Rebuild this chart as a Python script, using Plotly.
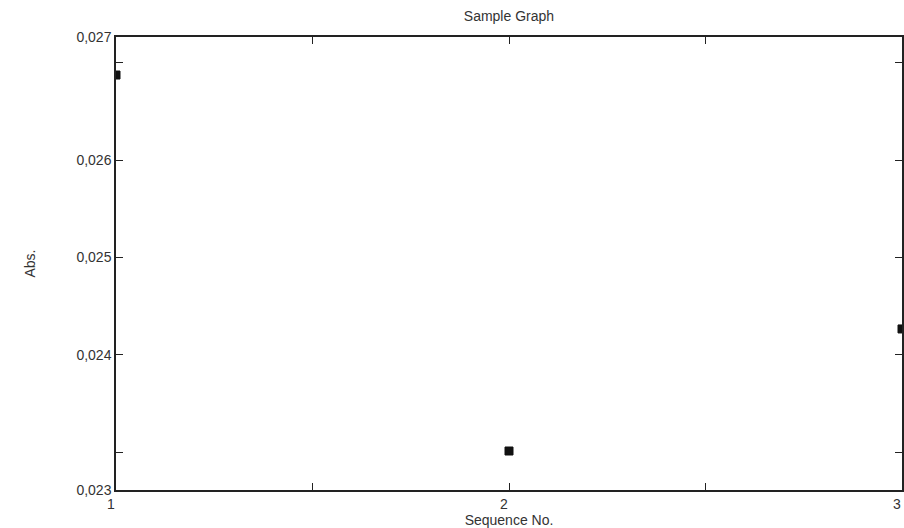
import plotly.graph_objects as go

# Data
sequence_no = [1, 2, 3]
absorbance = [0.026872, 0.023015, 0.024267]

# Axis limits (shown as corner labels) and ticks
y_min, y_max = 0.022615, 0.027262
y_ticks = [y_min, 0.023, 0.024, 0.025, 0.026, 0.027, y_max]
y_labels = ["0,023", "", "0,024", "0,025", "0,026", "", "0,027"]
x_ticks = [1, 1.5, 2, 2.5, 3]
x_labels = ["1", "", "2", "", "3"]

font = "Liberation Sans, Arial, sans-serif"
ink = "#222222"
txt = "#333333"

fig = go.Figure()
fig.add_trace(go.Scatter(
    x=sequence_no, y=absorbance, mode="markers",
    marker=dict(symbol="square", size=8, color="#111111",
                line=dict(color="#111111", width=1)),
    showlegend=False,
))

fig.update_layout(
    width=904, height=528,
    margin=dict(l=116, r=2, t=37, b=38),
    paper_bgcolor="white", plot_bgcolor="white",
    font=dict(family=font, size=14, color=txt),
    title=dict(text="Sample Graph", x=0.563, xref="container",
               y=1 - 16 / 528, yref="container", yanchor="middle",
               xanchor="center", font=dict(size=14, color=txt)),
)

fig.update_xaxes(
    range=[1, 3], tickmode="array", tickvals=x_ticks, ticktext=x_labels,
    ticks="inside", ticklen=7, tickcolor=ink, showgrid=False, zeroline=False,
    showline=True, linecolor=ink, linewidth=1.5, mirror="ticks",
    ticklabelposition="outside left", ticklabeloverflow="allow",
    title=dict(text="Sequence No.", standoff=0, font=dict(size=14)),
    tickfont=dict(size=14), automargin=False,
)
fig.update_yaxes(
    range=[y_min, y_max], tickmode="array", tickvals=y_ticks, ticktext=y_labels,
    ticks="inside", ticklen=7, tickcolor=ink, showgrid=False, zeroline=False,
    showline=True, linecolor=ink, linewidth=1.5, mirror="ticks",
    title=dict(text="Abs.", standoff=38, font=dict(size=14)),
    tickfont=dict(size=14), automargin=False,
)

fig.write_html(
    "out.html",
    config={"displayModeBar": False},
    post_script="document.body.style.margin='0';document.body.style.overflow='hidden';",
)
